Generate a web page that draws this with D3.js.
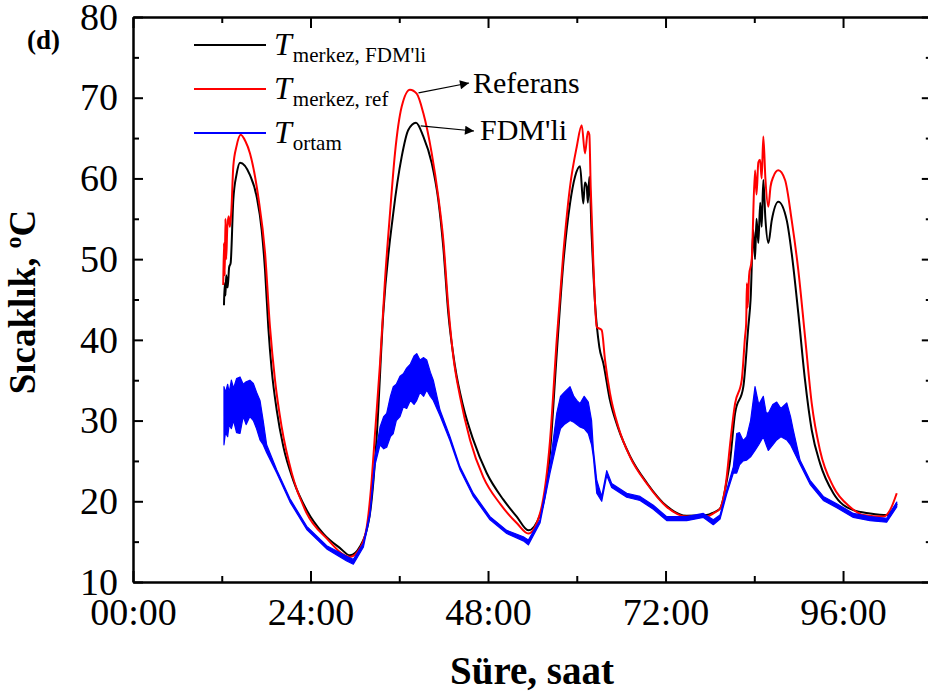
<!DOCTYPE html>
<html><head><meta charset="utf-8">
<script src="https://cdn.jsdelivr.net/npm/d3@7"></script>
<style>body{margin:0;background:#fff} svg{display:block}</style>
</head><body>
<svg id="c" width="928" height="697"></svg>
<script>
// ---- data ----
const xTickHours = [0,24,48,72,96];
const xTickLabels = ["00:00","24:00","48:00","72:00","96:00"];
const xMinorHours = [12,36,60,84,108];
const yTicks = [10,20,30,40,50,60,70,80];
const yMinor = [15,25,35,45,55,65,75];

const redHours = [12.2,12.3,12.4,12.5,12.6,12.75,12.94,13.1,13.3,13.56,14.0,14.56,15.2,15.82,16.94,17.85,18.52,19.2,20.1,21.46,23.49,26.19,29.34,30.69,31.6,32.27,32.72,33.4,34.07,34.75,35.42,36.33,37.45,38.36,39.25,40.39,41.28,41.95,42.63,43.31,44.21,45.57,47.36,49.62,51.88,53.45,55.03,56.38,57.29,58.18,59.09,59.99,60.67,61.11,61.5,61.7,61.88,62.24,62.7,63.37,63.82,64.49,65.62,67.2,69.46,72.16,74.86,77.57,78.46,79.37,80.27,80.72,81.4,82.3,82.75,82.9,83.0,83.1,83.3,83.65,84.1,84.3,84.55,84.78,85.0,85.22,85.5,85.9,86.2,86.57,87.25,88.16,89.06,89.95,90.86,91.77,92.89,94.69,96.95,98.74,101.45,102.35,103.26];
const redTemps = [46.8,52,48,55,50,54,55.3,54,56,61.5,64,65.4,64.6,63.1,57.7,50.8,41.6,35.0,29.2,23.5,18.5,15.4,13.1,14.2,16.8,22.6,28.4,37.1,47.4,55.7,63.1,68.9,71.0,70.5,68.1,63.1,57.7,52.4,44.1,37.9,33.0,27.6,23.0,19.7,17.3,16.0,18.5,27.5,40.0,50.7,59.0,63.9,66.6,63.1,65.8,65.4,59.0,49.5,41.6,41.2,37.5,33.4,29.2,25.5,22.2,19.3,18.1,18.1,18.5,19.1,23,27,32.1,35.0,40.4,42,47,44,48,49.9,61.0,58,62,62.3,60,65.2,60,56.5,59,60.2,61.0,59.8,54.8,48.65,40.4,32.1,26.3,21.8,19.3,18.3,18.1,18.9,21.0];

const blackHours = [12.3,12.4,12.5,12.6,12.8,13.0,13.2,13.56,14.0,14.47,15.82,16.73,17.4,17.85,18.29,18.75,19.43,20.32,21.67,23.49,25.73,27.99,29.34,30.69,32.04,32.95,33.84,35.19,36.33,37.22,38.26,39.25,40.39,41.28,41.95,42.63,43.54,44.66,46.01,47.82,50.07,51.88,53.45,55.03,56.38,57.29,58.18,59.09,59.76,60.44,60.88,61.1,61.34,61.5,61.7,62.02,62.47,63.05,63.59,64.49,65.62,67.2,69.46,72.16,74.86,77.57,78.46,79.37,80.27,80.72,81.4,82.52,83.19,83.5,83.87,84.1,84.3,84.55,84.8,85.0,85.22,85.5,85.9,86.36,87.25,88.39,89.06,89.95,90.86,91.77,92.89,94.69,97.39,99.65,101.9,103.26];
const blackTemps = [44.3,47,45.5,48,46.5,49,49.5,57.3,60.5,61.95,60.4,57.7,53.6,48.65,41.6,36.3,31.3,26.8,22.6,18.9,16.0,14.2,13.3,14.4,18.5,28.0,43.3,55.7,62.7,66.0,66.9,65.2,61.9,57.3,51.5,43.3,36.7,31.7,27.6,23.5,20.2,18.1,16.4,18.3,26.0,38.3,49.5,56.9,60.2,61.5,56.9,59.5,59.0,57,60.2,52.8,44.5,39.1,37.1,32.5,29.0,25.6,22.3,19.4,18.2,18.3,18.6,19.1,22.5,25,30.9,34.2,41.6,45,53.6,50,55,52.0,57,54,59.8,55,52.0,54.8,57.1,54.8,50.7,43.3,35.0,28.8,24.7,21.0,18.9,18.5,18.3,19.7];

const blueHours = [12.3,12.5,12.8,13.0,13.3,13.6,14.0,14.47,14.9,15.3,15.8,16.27,16.7,17.17,17.6,18.07,19.43,21.23,23.49,26.19,28.89,29.79,31.14,32.04,32.72,33.4,33.9,34.3,34.8,35.19,35.6,36.1,36.55,37.0,37.5,38.0,38.36,38.8,39.3,39.71,40.2,40.6,41.51,42.86,44.21,46.01,48.27,50.53,52.77,53.45,55.03,56.38,57.29,57.8,58.3,59.09,59.6,60.0,60.44,61.0,61.56,62.0,62.24,62.7,63.37,64.05,64.72,66.75,68.55,70.35,72.16,74.86,77.11,78.46,79.37,80.27,81.17,81.62,82.0,82.5,82.98,83.5,84.1,84.6,85.22,85.6,85.9,86.5,87.03,87.6,88.39,88.9,89.28,90.18,91.54,93.33,95.15,97.39,99.65,101.9,103.26];
const blueLow = [27.0,28.5,28,29.5,29,30,28.5,28.4,30.5,29.5,30.5,30.0,29,27.6,27,26.0,23.5,19.9,16.5,14.1,12.6,12.2,14.3,18.2,24.5,27,26.5,26.7,28,28.4,30,30.5,31.7,31.5,32.5,32,32.5,33.5,33,33.8,33,32.5,30.6,27.5,23.9,20.6,17.7,16.0,15.1,14.6,17.3,23.5,27.2,29,29.5,30.0,29.8,29.5,29.2,29,28.4,27,25.5,21.0,20.0,23.2,21.7,20.5,20.1,19.0,17.6,17.6,18.0,17.1,17.8,20.9,23.5,23.5,24.5,25,25.1,25.5,26.3,27,28.0,27,26.3,27,27.6,28,27.6,27,26.3,24.6,22.1,20.1,19.2,18.0,17.6,17.4,19.3];
const blueHigh = [34.2,33.5,34.5,33.5,35,34,35.2,35.4,34.5,34.8,35,34.6,33.5,32.5,30,27.0,23.9,20.3,16.9,14.5,13.2,12.8,14.8,18.7,25.5,29.2,30.5,30.9,33,34.2,34.5,35.5,35.8,36.5,37,38,38.3,37.5,37.8,37.5,36,35.0,31.3,28.0,24.3,21.0,18.1,16.4,15.6,15.2,17.7,24.5,30.9,33,33.5,34.2,33,32.5,32.1,33,32.3,30,26.5,22.6,20.6,23.8,22.2,21.0,20.6,19.5,18.1,18.1,18.5,17.7,18.3,21.4,24.3,28.4,28.5,27.5,28.0,30,34.2,32,33.0,31,30.9,32,32.3,31.5,32.2,30.5,28.8,25.1,22.6,20.6,19.7,18.5,18.1,17.9,19.9];

const legendSubs = ["merkez, FDM'li", "merkez, ref", "ortam"];
const legendColors = ["#000000", "#ff0000", "#0000ff"];

// ---- drawing ----
const FONT = "'Liberation Serif','Times New Roman',serif";
const svg = d3.select("#c");
const x = d3.scaleLinear().domain([0,108]).range([133, 931.8]);
const y = d3.scaleLinear().domain([10,80]).range([582,17]);

function styleAxis(g){
  g.selectAll("path.domain").attr("stroke","#000").attr("stroke-width",2);
  g.selectAll(".tick line").attr("stroke","#000").attr("stroke-width",2);
  g.selectAll(".tick text").attr("font-family",FONT).attr("font-size",38).attr("fill","#000");
}

// series
const line = d3.line().x(d=>x(d[0])).y(d=>y(d[1])).curve(d3.curveMonotoneX);
svg.append("path").datum(d3.zip(blackHours, blackTemps))
  .attr("d", line).attr("fill","none").attr("stroke","#000").attr("stroke-width",2).attr("stroke-linejoin","round");
svg.append("path").datum(d3.zip(redHours, redTemps))
  .attr("d", line).attr("fill","none").attr("stroke","#ff0000").attr("stroke-width",2).attr("stroke-linejoin","round");
const area = d3.area().x(i=>x(blueHours[i])).y0(i=>y(blueLow[i])).y1(i=>y(blueHigh[i]));
svg.append("path").datum(d3.range(blueHours.length))
  .attr("d", area).attr("fill","#0000ff").attr("stroke","#0000ff").attr("stroke-width",1.2).attr("stroke-linejoin","round");

// axes
const gB = svg.append("g").attr("transform","translate(0,582)")
  .call(d3.axisBottom(x).tickValues(xTickHours).tickFormat((d,i)=>xTickLabels[i]).tickSizeInner(-11).tickSizeOuter(0).tickPadding(16));
styleAxis(gB);
const gBm = svg.append("g").attr("transform","translate(0,582)")
  .call(d3.axisBottom(x).tickValues(xMinorHours).tickFormat("").tickSizeInner(-6).tickSizeOuter(0));
styleAxis(gBm);
const gT = svg.append("g").attr("transform","translate(0,17)")
  .call(d3.axisTop(x).tickValues(xTickHours).tickFormat("").tickSizeInner(-11).tickSizeOuter(0));
styleAxis(gT);
const gTm = svg.append("g").attr("transform","translate(0,17)")
  .call(d3.axisTop(x).tickValues(xMinorHours).tickFormat("").tickSizeInner(-6).tickSizeOuter(0));
styleAxis(gTm);
const gL = svg.append("g").attr("transform","translate(133,0)")
  .call(d3.axisLeft(y).tickValues(yTicks).tickSizeInner(-10).tickSizeOuter(0).tickPadding(15));
styleAxis(gL);
const gLm = svg.append("g").attr("transform","translate(133,0)")
  .call(d3.axisLeft(y).tickValues(yMinor).tickFormat("").tickSizeInner(-6).tickSizeOuter(0));
styleAxis(gLm);
const gR = svg.append("g").attr("transform","translate(931.8,0)")
  .call(d3.axisRight(y).tickValues(yTicks).tickFormat("").tickSizeInner(-10).tickSizeOuter(0));
styleAxis(gR);
const gRm = svg.append("g").attr("transform","translate(931.8,0)")
  .call(d3.axisRight(y).tickValues(yMinor).tickFormat("").tickSizeInner(-6).tickSizeOuter(0));
styleAxis(gRm);

// axis titles
svg.append("text").attr("x",532).attr("y",684).attr("text-anchor","middle")
  .attr("font-family",FONT).attr("font-weight","bold").attr("font-size",39).text("Süre, saat");
const yt = svg.append("text").attr("transform","translate(35,302) rotate(-90)").attr("text-anchor","middle")
  .attr("font-family",FONT).attr("font-weight","bold").attr("font-size",37);
yt.append("tspan").text("Sıcaklık, ");
yt.append("tspan").attr("font-size",24).attr("dy",-14).text("o");
yt.append("tspan").attr("dy",14).text("C");

// panel label
svg.append("text").attr("x",27).attr("y",49).attr("font-family",FONT).attr("font-weight","bold")
  .attr("font-size",27).text("(d)");

// legend
legendSubs.forEach((s,i)=>{
  const ly = 45 + i*44;
  svg.append("line").attr("x1",194).attr("x2",266).attr("y1",ly).attr("y2",ly)
    .attr("stroke",legendColors[i]).attr("stroke-width",2);
  const t = svg.append("text").attr("x",274).attr("y",ly+10).attr("font-family",FONT).attr("fill","#000");
  t.append("tspan").attr("font-style","italic").attr("font-size",32).text("T");
  t.append("tspan").attr("font-size",21).attr("dx",1).attr("dy",7).text(s);
});

// annotations
const defs = svg.append("defs");
defs.append("marker").attr("id","ah").attr("viewBox","0 0 10 10").attr("refX",10).attr("refY",5)
  .attr("markerWidth",16).attr("markerHeight",9).attr("markerUnits","userSpaceOnUse").attr("orient","auto")
  .append("path").attr("d","M0,0 L10,5 L0,10 Z").attr("fill","#000");
svg.append("line").attr("x1",x(38.6)).attr("y1",y(70.6)).attr("x2",469).attr("y2",83)
  .attr("stroke","#000").attr("stroke-width",1.2).attr("marker-end","url(#ah)");
svg.append("line").attr("x1",x(38.9)).attr("y1",y(66.5)).attr("x2",474).attr("y2",131)
  .attr("stroke","#000").attr("stroke-width",1.2).attr("marker-end","url(#ah)");
svg.append("text").attr("x",473).attr("y",93).attr("font-family",FONT).attr("font-size",30).text("Referans");
svg.append("text").attr("x",480).attr("y",140).attr("font-family",FONT).attr("font-size",30).text("FDM'li");
</script>
</body></html>
